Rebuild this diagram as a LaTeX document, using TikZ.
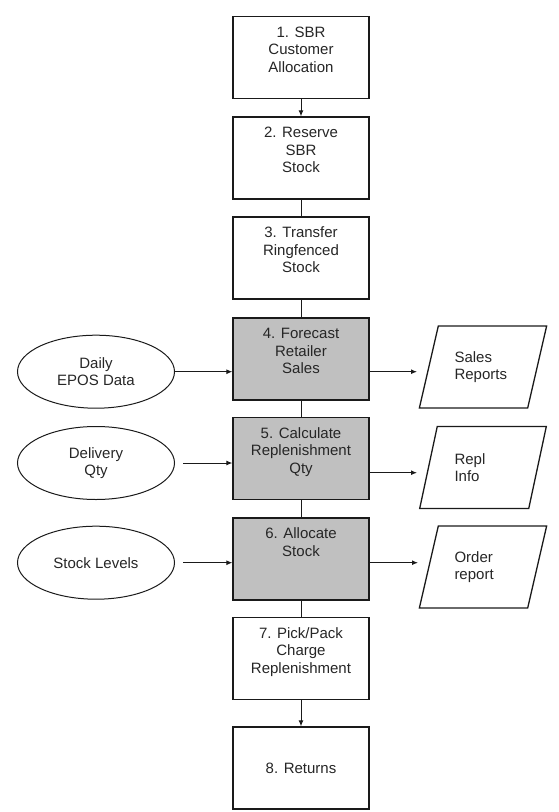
\documentclass[tikz,border=0pt]{standalone}
\usepackage{fontspec}
\setmainfont{Liberation Sans}
\usetikzlibrary{shapes.geometric,arrows.meta}
\definecolor{boxgray}{HTML}{C0C0C0}
\definecolor{ink}{HTML}{1A1A1A}
\definecolor{txt}{HTML}{262626}
\newcommand{\boxtxt}[2][14.5pt]{\parbox[c][70pt][t]{124pt}{\centering\rule{0pt}{#1}#2}}
\tikzset{
  procbox/.style={rectangle, draw=ink, line width=1.3pt, fill=white, minimum width=127.5pt, minimum height=82pt, inner sep=6pt, text=txt, font=\fontsize{15}{17.5}\selectfont},
  keybox/.style={procbox, fill=boxgray},
  src/.style={ellipse, draw=ink, line width=1pt, minimum width=157pt, minimum height=73pt, inner sep=0pt, align=center, text=txt, font=\fontsize{15}{17.5}\selectfont},
  doc/.style={trapezium, trapezium left angle=69, trapezium right angle=111, trapezium stretches=true, draw=ink, line width=1.3pt, minimum width=127.5pt, minimum height=82pt, inner sep=0pt, text width=57pt, align=left, text=txt, font=\fontsize{15}{17.5}\selectfont},
  arr/.style={draw=ink, line width=1pt, -{Latex[length=6pt,width=5pt]}},
  link/.style={draw=ink, line width=1pt},
}
\begin{document}
\begin{tikzpicture}[x=1pt,y=-1pt]
\useasboundingbox (0,0) rectangle (558,812);
% process boxes
\node[procbox] (b1) at (301,57.5) {\boxtxt{1. SBR\\Customer\\Allocation}};
\node[procbox] (b2) at (301,158) {\boxtxt{2. Reserve\\SBR\\Stock}};
\node[procbox] (b3) at (301,258) {\boxtxt{3. Transfer\\Ringfenced\\Stock}};
\node[keybox] (b4) at (301,359) {\boxtxt{4. Forecast\\Retailer\\Sales}};
\node[keybox] (b5) at (301,458.5) {\boxtxt{5. Calculate\\Replenishment\\Qty}};
\node[keybox] (b6) at (301,559) {\boxtxt{6. Allocate\\Stock}};
\node[procbox] (b7) at (301,658.5) {\boxtxt{7. Pick/Pack\\Charge\\Replenishment}};
\node[procbox] (b8) at (301,768) {\boxtxt[40pt]{8. Returns}};
% sources
\node[src] (e1) at (96,371.7) {Daily\\EPOS Data};
\node[src] (e2) at (96,463) {Delivery\\Qty};
\node[src] (e3) at (96,562.7) {Stock Levels};
% outputs
\node[doc] (p1) at (483,367) {Sales\\Reports};
\node[doc] (p2) at (483,467.5) {Repl\\Info};
\node[doc] (p3) at (483,567) {Order\\report};
\coordinate (o1) at (417,371.7);
\coordinate (o2) at (417,472.7);
\coordinate (o3) at (418,562.7);
% vertical flow
\draw[arr] (b1) -- (b2);
\draw[link] (b2) -- (b3);
\draw[link] (b3) -- (b4);
\draw[link] (b4) -- (b5);
\draw[link] (b5) -- (b6);
\draw[link] (b6) -- (b7);
\draw[arr] (b7) -- (b8);
% inputs
\draw[arr] (e1.east) -- (e1.east -| b4.west);
\draw[arr, shorten <=8pt] (e2.east) -- (e2.east -| b5.west);
\draw[arr, shorten <=8pt] (e3.east) -- (e3.east -| b6.west);
% outputs
\draw[arr] (o1 -| b4.east) -- (o1);
\draw[arr] (o2 -| b5.east) -- (o2);
\draw[arr] (o3 -| b6.east) -- (o3);
\end{tikzpicture}
\end{document}
